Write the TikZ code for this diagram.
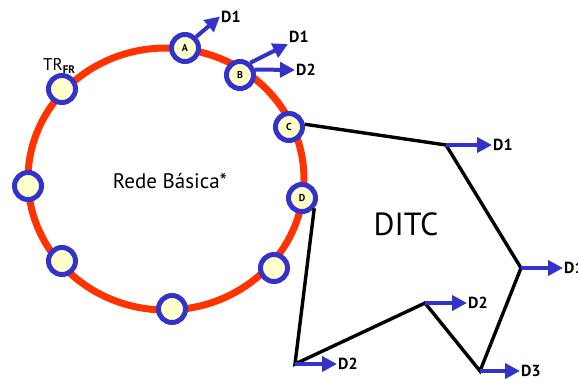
\documentclass[tikz,border=0pt]{standalone}
\usepackage{fontspec}
\setmainfont{PT Sans}
\usetikzlibrary{arrows.meta}
\definecolor{ringred}{HTML}{FF3300}
\definecolor{stnblue}{HTML}{3333CC}
\definecolor{stnfill}{HTML}{FFFFCC}
\begin{document}
\begin{tikzpicture}[x=1pt, y=-1pt,
    stn/.style={circle, draw=stnblue, fill=stnfill, line width=5pt, minimum size=27pt, inner sep=0pt, font=\fontsize{10}{10}\selectfont\bfseries},
    lbl/.style={anchor=west, inner sep=1pt, font=\fontsize{16}{16}\selectfont\bfseries},
    darr/.style={draw=stnblue, line width=4pt, -{Triangle[length=15pt, width=15pt]}},
    ditcline/.style={draw=black, line width=3.4pt}
]
\useasboundingbox (0,0) rectangle (578,378);
\draw[ringred, line width=7pt] (166,179) ellipse [x radius=138, y radius=131];
\node[stn] (a) at (185,48) {A};
\node[stn] (b) at (240,75) {B};
\node[stn] (c) at (289,127) {C};
\node[stn] (d) at (302,198) {D};
\node[stn] (e) at (274,268) {};
\node[stn] (f) at (172,309) {};
\node[stn] (g) at (62,261) {};
\node[stn] (h) at (28,186) {};
\node[stn] (tr) at (62,89) {};
\node[anchor=base west, inner sep=0pt] (trl) at (43,70) {\fontsize{17}{17}\selectfont TR\raisebox{-3pt}{\fontsize{11}{11}\selectfont\bfseries FR}};
\node[anchor=base] (rb) at (170,188) {\fontsize{21}{21}\selectfont Rede Básica*};
\node[anchor=base] (dt) at (406,235) {\fontsize{32}{32}\selectfont DITC};
\coordinate (p1) at (446,145);
\coordinate (p2) at (521,268);
\coordinate (p3) at (480,371);
\coordinate (p4) at (425,303);
\coordinate (p5) at (295,364);
\draw[ditcline] (c.10) -- (p1) -- (p2) -- (p3) -- (p4) -- (p5) -- (d.-40);
\node[lbl] (a1) at (220,16.5) {D1};
\node[lbl] (b1) at (288,37) {D1};
\node[lbl] (b2) at (295,70) {D2};
\node[lbl] (l1) at (492,145) {D1};
\node[lbl] (l2) at (563,268) {D1};
\node[lbl] (l3) at (520,371) {D3};
\node[lbl] (l4) at (467,303) {D2};
\node[lbl] (l5) at (337,364) {D2};
\draw[darr] (a.45) -- (a1.west);
\draw[darr] (b.50) -- (b1.south west);
\draw[darr] (b.20) -- (b2.west);
\draw[darr] (p1) -- (l1);
\draw[darr] (p2) -- (l2);
\draw[darr] (p3) -- (l3);
\draw[darr] (p4) -- (l4);
\draw[darr] (p5) -- (l5);
\end{tikzpicture}
\end{document}
